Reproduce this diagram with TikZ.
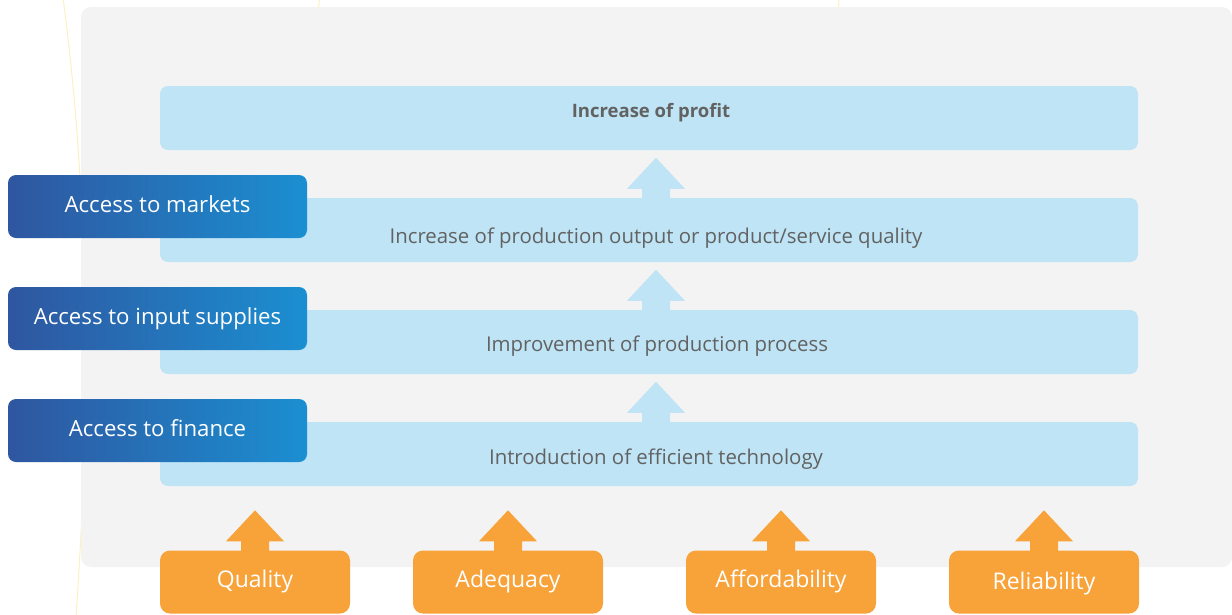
\documentclass[tikz,border=0pt]{standalone}
\usepackage{fontspec}
\setmainfont{Open Sans}
\usetikzlibrary{calc}
\definecolor{panelgrey}{HTML}{F3F3F3}
\definecolor{stepblue}{HTML}{BEE4F5}
\definecolor{textgrey}{HTML}{626262}
\definecolor{accessA}{HTML}{2F56A0}
\definecolor{accessB}{HTML}{1B8FD1}
\definecolor{factor}{HTML}{F8A23A}
\definecolor{guide}{HTML}{FEEFC2}

% block arrow rising from the top edge of a lower box
\newcommand\risearrow[3]{% #1 lower node, #2 x position, #3 colour
  \fill[#3] let \p1=(#2,0 |- #1.north) in
    (\x1-14pt,\y1-1pt) -- (\x1-14pt,\y1+9pt) -- (\x1-29pt,\y1+9pt)
    -- (\x1,\y1+40pt) -- (\x1+29pt,\y1+9pt) -- (\x1+14pt,\y1+9pt)
    -- (\x1+14pt,\y1-1pt) -- cycle;}

\begin{document}
\begin{tikzpicture}[x=1pt,y=-1pt,
  stepbox/.style={fill=stepblue,rounded corners=8pt,minimum width=978pt,
    minimum height=64pt,inner sep=0pt},
  steptext/.style={text=textgrey,font=\fontsize{20.4}{24}\selectfont,inner sep=0pt},
  accessbox/.style={left color=accessA,right color=accessB,rounded corners=8pt,
    minimum width=299pt,minimum height=63pt,inner sep=0pt,text=white,
    text height=16pt,text depth=5pt,font=\fontsize{22.2}{26}\selectfont},
  factorbox/.style={fill=factor,rounded corners=10pt,minimum width=190pt,
    minimum height=63pt,inner sep=0pt,text=white,
    text height=16pt,text depth=5pt,font=\fontsize{23}{27}\selectfont}]
\useasboundingbox (0,0) rectangle (1232,614);

% thin guide lines in the page background
\draw[guide,line width=1pt] (63,-2) .. controls (90,200) and (90,420) .. (76,616);
\draw[guide,line width=1pt] (320,-2) -- (316,20);
\draw[guide,line width=1pt] (839,-2) -- (838,20);

% grey panel
\fill[panelgrey,rounded corners=10pt] (81,7) rectangle (1232,567);

% result chain
\node[stepbox] (s1) at (649,118) {};
\node[stepbox] (s2) at (649,230) {};
\node[stepbox] (s3) at (649,342) {};
\node[stepbox] (s4) at (649,454) {};
\node[steptext,font=\fontsize{18.5}{22}\selectfont\bfseries] (t1) at (651,113) {Increase of profit};
\node[steptext] (t2) at (656,238) {Increase of production output or product/service quality};
\node[steptext] (t3) at (657,346) {Improvement of production process};
\node[steptext] (t4) at (656,459) {Introduction of efficient technology};

\risearrow{s2}{656}{stepblue}
\risearrow{s3}{656}{stepblue}
\risearrow{s4}{656}{stepblue}

% access factors
\node[accessbox] (a1) at (157.5,206.5) {Access to markets};
\node[accessbox] (a2) at (157.5,318.5) {Access to input supplies};
\node[accessbox] (a3) at (157.5,430.5) {Access to finance};

% service qualities
\node[factorbox] (f1) at (255,582) {Quality};
\node[factorbox] (f2) at (508,582) {Adequacy};
\node[factorbox] (f3) at (781,582) {Affordability};
\node[factorbox,text depth=1pt] (f4) at (1044,582) {Reliability};

\risearrow{f1}{255}{factor}
\risearrow{f2}{508}{factor}
\risearrow{f3}{781}{factor}
\risearrow{f4}{1044}{factor}
\end{tikzpicture}
\end{document}
